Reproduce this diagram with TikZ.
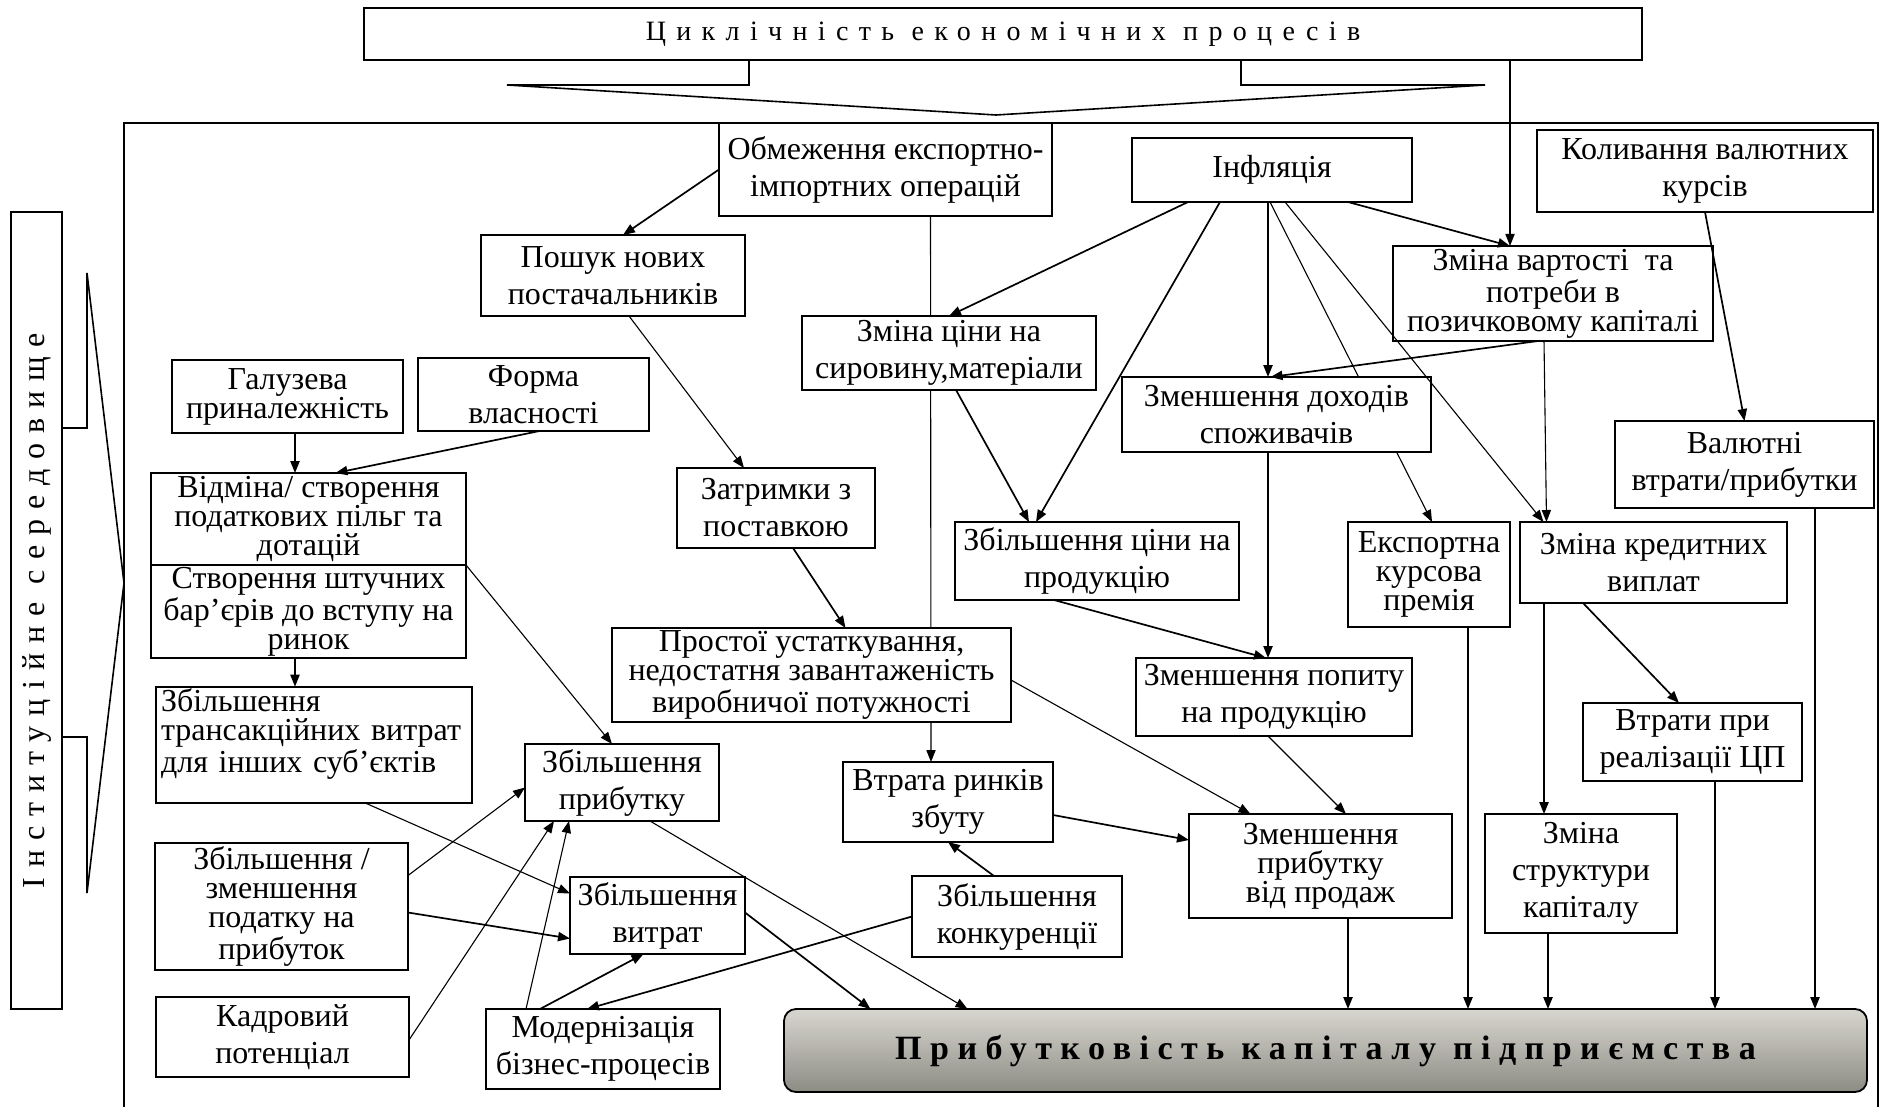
\documentclass[tikz,border=0pt]{standalone}
\usepackage{fontspec}
\setmainfont{Liberation Serif}
\newfontfamily\spacedtop[LetterSpace=37]{Liberation Serif}
\newfontfamily\spacedside[LetterSpace=31]{Liberation Serif}
\newfontfamily\spacedbot[LetterSpace=25]{Liberation Serif}
\usetikzlibrary{arrows.meta,calc,backgrounds}
\definecolor{crem}{RGB}{238,236,227}
\definecolor{cremdark}{RGB}{140,139,132}

\begin{document}
\begin{tikzpicture}[x=0.5pt,y=-0.5pt,
  box/.style={draw, line width=0.9pt, fill=white, inner sep=1pt, outer sep=0pt, align=center, font=\fontsize{16}{18.5}\selectfont},
  tight/.style={font=\fontsize{16}{14.5}\selectfont},
  sz/.style 2 args={minimum width=#1*0.5pt, minimum height=#2*0.5pt},
  arr/.style={-{Triangle[length=6pt,width=4.6pt]}, line width=0.85pt},
  tarr/.style={-{Triangle[length=6pt,width=4.6pt]}, line width=0.55pt}]
  \useasboundingbox (0,0) rectangle (1883,1107);

  % outer frame, cycle box and its wide arrow
  \draw[line width=0.9pt] (124,1107) -- (124,123) -- (1878,123) -- (1878,1107);
  \node[box, sz={1278}{52}, line width=1pt, font=\fontsize{14}{16}\spacedtop] (cycl) at (1003,34) {Циклічність економічних процесів};
  \draw[line width=0.8pt] (749,60) -- (749,85) -- (507,85) -- (996,115) -- (1485,85) -- (1241,85) -- (1241,60);

  % institutional side box with its bracket
  \node[box, rotate=90, sz={797}{51}, font=\fontsize{16}{18}\spacedside] (inst) at (36.5,610.5) {Інституційне середовище};
  \draw[line width=0.8pt] (62,428) -- (87,428) -- (87,273) -- (124,583) -- (87,893) -- (87,737) -- (62,737);

  % nodes
  \node[box, sz={333}{93}] (obm) at (885.5,169.5) {Обмеження експортно-\\імпортних операцій};
  \node[box, sz={280}{64}] (infl) at (1272,170) {Інфляція};
  \node[box, sz={336}{82}] (koly) at (1705,171) {Коливання валютних\\курсів};
  \node[box, sz={264}{81}] (posh) at (613,275.5) {Пошук нових\\постачальників};
  \node[box, tight, sz={320}{95}] (zvart) at (1553,293.5) {Зміна вартості \ та\\потреби в\\позичковому капіталі};
  \node[box, sz={294}{74}] (zcina) at (949,353) {Зміна ціни на\\сировину,матеріали};
  \node[box, tight, sz={231}{73}] (galuz) at (287.5,396.5) {Галузева\\приналежність};
  \node[box, sz={231}{73}] (forma) at (533.5,394.5) {Форма\\власності};
  \node[box, sz={309}{75}] (zdoh) at (1276.5,414.5) {Зменшення доходів\\споживачів};
  \node[box, sz={259}{87}] (valut) at (1744.5,464.5) {Валютні\\втрати/прибутки};
  \node[box, tight, sz={315}{92}] (vidm) at (308.5,519) {Відміна/ створення\\податкових пільг та\\дотацій};
  \node[box, tight, sz={315}{93}] (stvor) at (308.5,611.5) {Створення штучних\\бар’єрів до вступу на\\ринок};
  \node[box, sz={198}{80}] (zatr) at (776,508) {Затримки з\\поставкою};
  \node[box, sz={284}{78}] (zbcina) at (1097,561) {Збільшення ціни на\\продукцію};
  \node[box, tight, sz={162}{105}] (eksp) at (1429,574.5) {Експортна\\курсова\\премія};
  \node[box, sz={267}{81}] (zkred) at (1653.5,562.5) {Зміна кредитних\\виплат};
  \node[box, tight, sz={399}{94}] (prost) at (811.5,675) {Простої устаткування,\\недостатня завантаженість\\виробничої потужності};
  \node[box, sz={276}{78}] (zpop) at (1274,697) {Зменшення попиту\\на продукцію};
  \node[box, tight, sz={316}{116}, align=left, inner xsep=2.5pt, text width=153pt] (trans) at (314,745) {Збільшення\\трансакційних витрат\\для інших суб’єктів\\ \mbox{}};
  \node[box, sz={219}{78}] (vtcp) at (1692.5,742) {Втрати при\\реалізації ЦП};
  \node[box, sz={194}{77}] (zprib) at (622,782.5) {Збільшення\\прибутку};
  \node[box, sz={210}{80}] (vtrr) at (948,802) {Втрата ринків\\збуту};
  \node[box, tight, sz={263}{104}] (zprod) at (1320.5,866) {Зменшення\\прибутку\\від продаж};
  \node[box, sz={192}{119}] (strukt) at (1581,873.5) {Зміна\\структури\\капіталу};
  \node[box, tight, sz={253}{127}] (podat) at (281.5,906.5) {Збільшення /\\зменшення\\податку на\\прибуток};
  \node[box, sz={175}{77}] (zvytr) at (657.5,915.5) {Збільшення\\витрат};
  \node[box, sz={210}{81}] (konk) at (1017,916.5) {Збільшення\\конкуренції};
  \node[box, sz={253}{80}] (kadr) at (282.5,1037) {Кадровий\\потенціал};
  \node[box, sz={234}{80}] (modern) at (603,1049) {Модернізація\\бізнес-процесів};
  \node[box, sz={1083}{83}, rounded corners=6pt, top color=crem!80!gray, middle color=crem, bottom color=cremdark,
    font=\fontsize{17}{19}\spacedbot\bfseries] (prybk) at (1325.5,1050.5) {Прибутковість капіталу підприємства};

  % lines that run under boxes
  \begin{pgfonlayer}{background}
    \draw[tarr] ($(obm.south)+(45,0)$) -- ($(vtrr.north)+(-17,0)$);
    \draw[tarr] ($(infl.south)+(-2,0)$) -- ($(eksp.north)+(3,0)$);
  \end{pgfonlayer}

  % left part
  \draw[arr] (obm.west) -- ($(posh.north)+(10,0)$);
  \draw[tarr] ($(posh.south)+(16,0)$) -- ($(zatr.north)+(-32,0)$);
  \draw[arr] ($(zatr.south)+(17,0)$) -- ($(prost.north)+(34,0)$);
  \draw[arr] ($(galuz.south)+(7.5,0)$) -- ($(vidm.north)+(-13.5,0)$);
  \draw[arr] ($(forma.south)+(6,0)$) -- ($(vidm.north)+(27,0)$);
  \draw[tarr] (vidm.south east) -- ($(zprib.north)+(-10,0)$);
  \draw[arr] ($(stvor.south)+(-13.5,0)$) -- ($(trans.north)+(-19,0)$);
  \draw[tarr] ($(trans.south)+(52,0)$) -- ($(zvytr.west)+(0,-22)$);
  \draw[tarr] ($(podat.east)+(0,-31)$) -- ($(zprib.west)+(0,5)$);
  \draw[arr] ($(podat.east)+(0,6)$) -- ($(zvytr.west)+(0,23)$);
  \draw[tarr] ($(kadr.east)+(0,3)$) -- ($(zprib.south)+(-68,0)$);
  \draw[tarr] ($(modern.north)+(-77,0)$) -- ($(zprib.south)+(-53,0)$);
  \draw[arr] ($(modern.north)+(-63,0)$) -- ($(zvytr.south)+(-14,0)$);
  \draw[arr] (konk.west) -- ($(modern.north)+(-16,0)$);
  \draw[arr] ($(konk.north)+(-23,0)$) -- (vtrr.south);
  \draw[arr] ($(vtrr.east)+(0,13)$) -- ($(zprod.west)+(0,-26)$);
  \draw[tarr] ($(prost.east)+(0,5)$) -- ($(zprod.north)+(-70,0)$);
  \draw[tarr] ($(zprib.south)+(28,0)$) -- ($(prybk.north)+(-358,0)$);
  \draw[arr] ($(zvytr.east)+(0,-3)$) -- ($(prybk.north)+(-455,0)$);

  % inflation and the right part
  \draw[arr] ($(infl.south)+(-84,0)$) -- (zcina.north);
  \draw[arr] ($(infl.south)+(-52,0)$) -- ($(zbcina.north)+(-61,0)$);
  \draw[arr] ($(infl.south)+(-4,0)$) -- ($(zdoh.north)+(-8.5,0)$);
  \draw[tarr] ($(infl.south)+(13,0)$) -- ($(zkred.north)+(-110,0)$);
  \draw[arr] ($(infl.south)+(76,0)$) -- ($(zvart.north)+(-43,0)$);
  \draw[tarr] ($(cycl.south)+(507,0)$) -- ($(zvart.north)+(-43,0)$);
  \draw[arr] ($(zvart.south)+(-15,0)$) -- ($(zdoh.north)+(-6,0)$);
  \draw[tarr] ($(zvart.south)+(-9,0)$) -- ($(zkred.north)+(-107,0)$);
  \draw[arr] (koly.south) -- (valut.north);
  \draw[arr] ($(zcina.south)+(7,0)$) -- ($(zbcina.north)+(-68,0)$);
  \draw[arr] ($(zdoh.south)+(-8.5,0)$) -- ($(zpop.north)+(-6,0)$);
  \draw[arr] ($(zbcina.south)+(-43,0)$) -- ($(zpop.north)+(-8,0)$);
  \draw[tarr] ($(zpop.south)+(-6,0)$) -- ($(zprod.north)+(25.5,0)$);
  \draw[arr] ($(zkred.south)+(-109.5,0)$) -- ($(strukt.north)+(-37,0)$);
  \draw[arr] ($(zkred.south)+(-70.5,0)$) -- ($(vtcp.north)+(-13.5,0)$);

  % into the result box
  \draw[arr] ($(zprod.south)+(27.5,0)$) -- ($(prybk.north)+(22.5,0)$);
  \draw[arr] ($(eksp.south)+(39,0)$) -- ($(prybk.north)+(142.5,0)$);
  \draw[arr] ($(strukt.south)+(-33,0)$) -- ($(prybk.north)+(222.5,0)$);
  \draw[arr] ($(vtcp.south)+(22.5,0)$) -- ($(prybk.north)+(389.5,0)$);
  \draw[arr] ($(valut.south)+(70.5,0)$) -- ($(prybk.north)+(489.5,0)$);
\end{tikzpicture}
\end{document}
